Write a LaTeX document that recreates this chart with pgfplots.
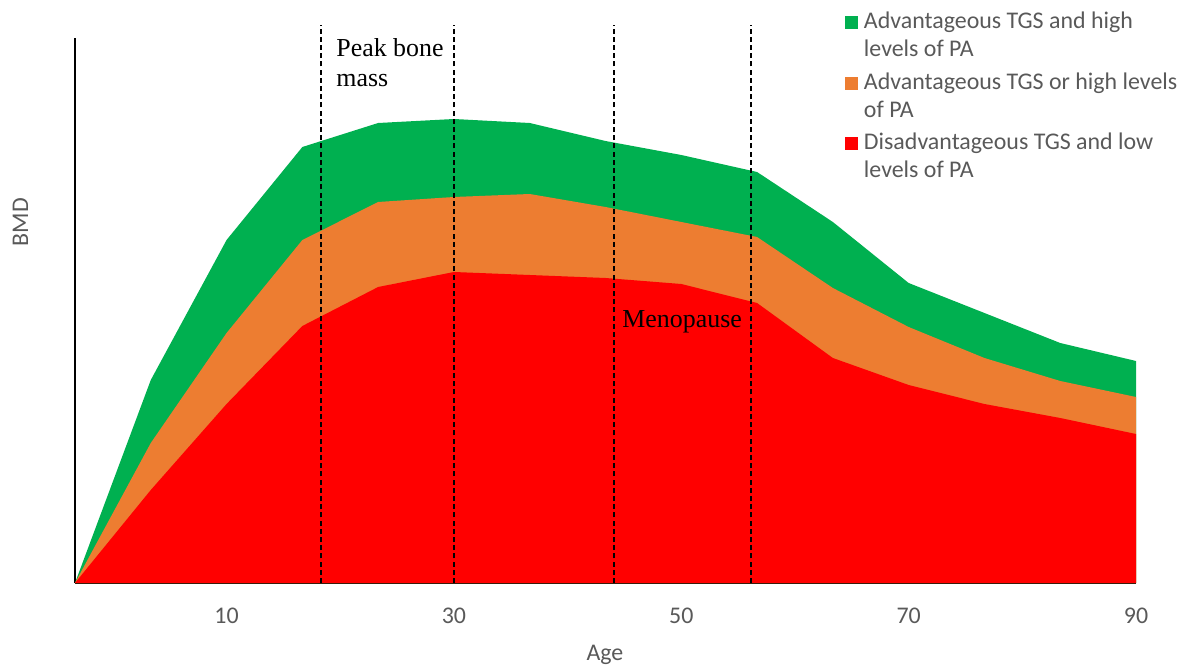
\documentclass[border=0pt]{standalone}
\usepackage{fontspec}
\setmainfont{Carlito}
\newfontfamily\tnr{Liberation Serif}
\usepackage{pgfplots}
\pgfplotsset{compat=1.18}
\definecolor{cgreen}{HTML}{00B050}
\definecolor{corange}{HTML}{ED7D31}
\definecolor{cred}{HTML}{FF0000}
\definecolor{cgray}{HTML}{595959}
\begin{document}
\begin{tikzpicture}
\begin{axis}[
  name=ax,
  at={(0,0)}, anchor=south west,
  scale only axis, width=530.5bp, height=272.5bp,
  xmin=0, xmax=14, ymin=0, ymax=545,
  clip=false,
  axis x line=bottom, axis y line=left,
  axis line style={-, black, line width=1.1bp},
  ytick=\empty,
  xtick={2,5,8,11,14}, xticklabels={10,30,50,70,90},
  major tick length=0pt,
  /pgf/number format/assume math mode=true,
  xticklabel style={font=\fontsize{12}{14}\selectfont, text=cgray, anchor=base, yshift=-20bp},
  xlabel={Age}, ylabel={BMD},
  xlabel style={font=\fontsize{12}{14}\selectfont, text=cgray, at={(axis description cs:0.4995,-0.1431)}, anchor=base},
  ylabel style={font=\fontsize{12}{14}\selectfont, text=cgray, at={(axis description cs:-0.0443,0.6624)}, anchor=base},
  legend cell align=left,
  legend style={at={(axis description cs:0.7257,1.0477)}, anchor=north west, draw=none, fill=none,
    inner sep=0pt, outer sep=0pt, row sep=6.25bp, column sep=3bp,
    nodes={align=left, inner sep=0pt, outer sep=0pt, text=cgray, font=\fontsize{12}{14.25}\selectfont}},
  legend image code/.code={\fill[#1] (0bp,3.4bp) rectangle (6.5bp,9.9bp);},
]
\addplot[fill=cgreen, draw=none] coordinates {
(0,0) (1,203) (2,343) (3,436) (4,460) (5,464) (6,460) (7,442) (8,428) (9,411) (10,361) (11,300) (12,270) (13,240) (14,222)} \closedcycle;
\addlegendentry{Advantageous TGS and high\\levels of PA}
\addplot[fill=corange, draw=none] coordinates {
(0,0) (1,140) (2,250) (3,343) (4,381) (5,386) (6,389) (7,376) (8,361) (9,346) (10,295) (11,256) (12,225) (13,202) (14,186)} \closedcycle;
\addlegendentry{Advantageous TGS or high levels\\of PA}
\addplot[fill=cred, draw=none] coordinates {
(0,0) (1,93) (2,179) (3,257) (4,296) (5,311) (6,308) (7,305) (8,299) (9,280) (10,225) (11,198) (12,179) (13,165) (14,149)} \closedcycle;
\addlegendentry{Disadvantageous TGS and low\\levels of PA}
\addplot[forget plot, black, line width=0.6bp, dash pattern=on 2.5bp off 1.6bp] coordinates {(3.246,0) (3.246,558)};
\addplot[forget plot, black, line width=0.6bp, dash pattern=on 2.5bp off 1.6bp] coordinates {(5.0,0) (5.0,558)};
\addplot[forget plot, black, line width=0.6bp, dash pattern=on 2.5bp off 1.6bp] coordinates {(7.112,0) (7.112,558)};
\addplot[forget plot, black, line width=0.6bp, dash pattern=on 2.5bp off 1.6bp] coordinates {(8.92,0) (8.92,558)};
\node[anchor=base west, inner sep=0pt, font=\tnr\fontsize{13}{15}\selectfont] at (axis cs:3.444,526) {Peak bone};
\node[anchor=base west, inner sep=0pt, font=\tnr\fontsize{13}{15}\selectfont] at (axis cs:3.444,496.5) {mass};
\node[anchor=base west, inner sep=0pt, font=\tnr\fontsize{13}{15}\selectfont] at (axis cs:7.218,255) {Menopause};
\end{axis}
\pgfresetboundingbox
\path[use as bounding box] (-37.5bp,-42.5bp) rectangle (557.5bp,291.5bp);
\end{tikzpicture}
\end{document}
